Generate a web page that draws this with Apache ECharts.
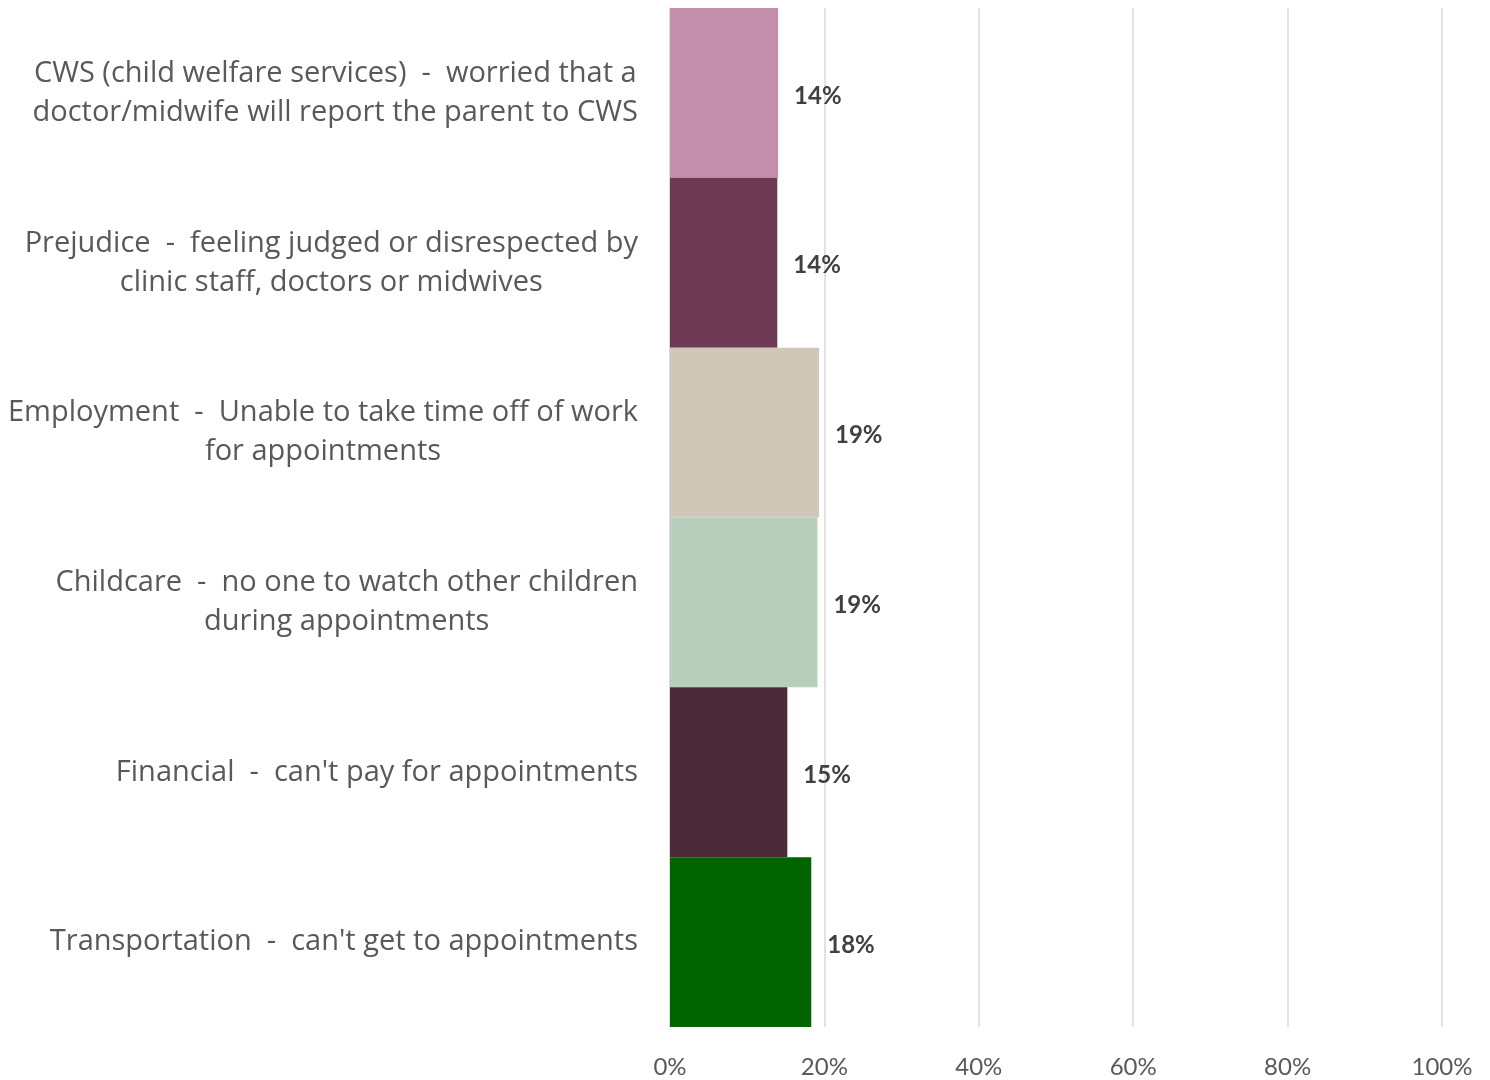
<!DOCTYPE html>
<html>
<head>
<meta charset="utf-8">
<script src="https://cdn.jsdelivr.net/npm/echarts@6/dist/echarts.min.js"></script>
<style>
  html, body { margin: 0; padding: 0; background: #ffffff; }
  #chart { width: 1490px; height: 1080px; }
</style>
</head>
<body>
<div id="chart"></div>
<script>
// Barriers to attending appointments, listed top to bottom
const categories = [
  "CWS (child welfare services)  -  worried that a\ndoctor/midwife will report the parent to CWS",
  "Prejudice  -  feeling judged or disrespected by\nclinic staff, doctors or midwives",
  "Employment  -  Unable to take time off of work\nfor appointments",
  "Childcare  -  no one to watch other children\nduring appointments",
  "Financial  -  can't pay for appointments",
  "Transportation  -  can't get to appointments"
];
// Share of respondents (%)
const values = [14.0, 13.9, 19.3, 19.1, 15.2, 18.3];
const barColors = ["#c48fab", "#6e3a53", "#cfc8b8", "#b8d0bb", "#4a2939", "#006400"];
const xTicks = [0, 20, 40, 60, 80, 100];

const LABEL_FONT = "'Open Sans', Lato, sans-serif";
const NUM_FONT = "Lato, 'Open Sans', sans-serif";

const chart = echarts.init(document.getElementById("chart"));
chart.setOption({
  animation: false,
  backgroundColor: "#ffffff",
  grid: { left: 670, right: 48, top: 8, bottom: 53, containLabel: false },
  xAxis: {
    type: "value",
    min: xTicks[0],
    max: xTicks[xTicks.length - 1],
    interval: xTicks[1] - xTicks[0],
    axisLine: { show: false },
    axisTick: { show: false },
    splitLine: { show: true, lineStyle: { color: "#d9d9d9", width: 1.5 } },
    axisLabel: {
      formatter: v => v + "%",
      color: "#595959",
      fontFamily: NUM_FONT,
      fontSize: 24,
      margin: 28
    }
  },
  yAxis: {
    type: "category",
    inverse: true,
    data: categories,
    axisLine: { show: true, lineStyle: { color: "#d9d9d9", width: 1.5 } },
    axisTick: { show: false },
    axisLabel: {
      // each line centred within its own block, block right-aligned to the axis
      formatter: v => v.split("\n").map(s => "{c|" + s + "}").join("\n"),
      align: "right",
      margin: 32,
      rich: {
        c: {
          align: "center",
          color: "#595959",
          fontFamily: LABEL_FONT,
          fontSize: 29,
          lineHeight: 39
        }
      }
    }
  },
  series: [{
    type: "bar",
    barCategoryGap: 0,
    data: values.map((v, i) => ({ value: v, itemStyle: { color: barColors[i] } })),
    label: {
      show: true,
      position: "right",
      distance: 16,
      offset: [0, 3],
      formatter: p => Math.round(p.value) + "%",
      color: "#404040",
      fontFamily: NUM_FONT,
      fontWeight: "bold",
      fontSize: 24
    }
  }]
});
</script>
</body>
</html>
